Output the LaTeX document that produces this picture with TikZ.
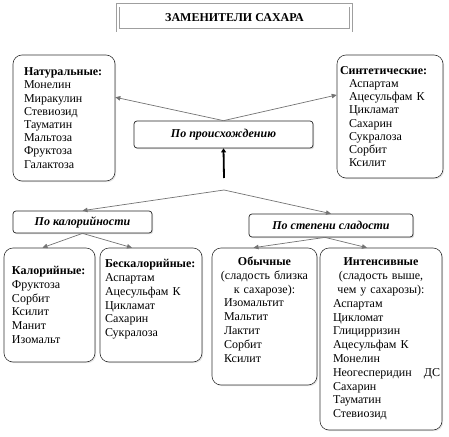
\documentclass[tikz,border=0pt]{standalone}
\usepackage{fontspec}
\setmainfont{Liberation Serif}
\newfontfamily\rusfont{Liberation Serif}
\usetikzlibrary{arrows.meta,shadows}

\begin{document}
\begin{tikzpicture}[
    x=1pt, y=-1pt,
    font=\rusfont\fontsize{12}{13.8}\selectfont,
    listbox/.style={draw=black!80, fill=white, line width=0.6pt, rounded corners=9pt, align=left,
                    inner ysep=0pt, drop shadow={opacity=0.2, shadow xshift=1.2pt, shadow yshift=-1.2pt}},
    tagbox/.style={draw=black!85, fill=white, line width=0.7pt, rounded corners=3pt, inner sep=0pt,
                   font=\rusfont\fontsize{12}{13.8}\selectfont\bfseries\itshape,
                   drop shadow={opacity=0.3, shadow xshift=1.2pt, shadow yshift=-1.2pt}},
    link/.style={draw=black!55, line width=0.7pt, -{Triangle[length=5pt,width=4.5pt]}},
]
    \useasboundingbox (0,0) rectangle (449,436);

    % Title frame
    \node[draw=gray!75, line width=0.7pt, double=white, double distance=2.6pt,
          minimum width=233pt, minimum height=25pt, inner sep=0pt,
          font=\rusfont\fontsize{12}{13}\selectfont\bfseries] (title) at (234.5,18) {ЗАМЕНИТЕЛИ САХАРА};

    % Level 1: by origin
    \node[tagbox, minimum width=179pt, minimum height=27pt] (orig) at (223.5,134.5) {По происхождению};

    \node[listbox, minimum width=102pt, minimum height=126pt, text width=80pt, inner xsep=11pt,
          font=\rusfont\fontsize{12}{13.2}\selectfont] (nat) at (64,118)
      {\textbf{Натуральные:}\\Монелин\\Миракулин\\Стевиозид\\Тауматин\\Мальтоза\\Фруктоза\\Галактоза};

    \node[listbox, minimum width=106pt, minimum height=123pt, text width=100pt, inner xsep=3pt,
          font=\rusfont\fontsize{12}{13.2}\selectfont] (syn) at (390,116.5)
      {\textbf{Синтетические:}\\\hspace*{9pt}Аспартам\\\hspace*{9pt}Ацесульфам К\\\hspace*{9pt}Цикламат\\
       \hspace*{9pt}Сахарин\\\hspace*{9pt}Сукралоза\\\hspace*{9pt}Сорбит\\\hspace*{9pt}Ксилит};

    % Level 2: by calories / by sweetness
    \node[tagbox, minimum width=139pt, minimum height=22pt] (kal) at (82.5,222) {По калорийности};
    \node[tagbox, minimum width=164pt, minimum height=23pt] (sweet) at (331,225.5) {По степени сладости};

    % Level 3 boxes
    \node[listbox, minimum width=91pt, minimum height=114pt, text width=75pt, inner xsep=8pt] (kalor) at (49.5,305)
      {\textbf{Калорийные:}\\Фруктоза\\Сорбит\\Ксилит\\Манит\\Изомальт};
    \node[listbox, minimum width=102pt, minimum height=114pt, text width=92pt, inner xsep=5pt] (bkal) at (151,305)
      {\textbf{Бескалорийные:}\\Аспартам\\Ацесульфам К\\Цикламат\\Сахарин\\Сукралоза\\\mbox{}};

    \node[listbox, minimum width=105pt, minimum height=137pt, text width=97pt, inner xsep=4pt] (usual) at (264.5,316.5)
      {\makebox[\linewidth][c]{\textbf{Обычные}}\\\makebox[\linewidth][c]{(сладость близка}\\
       \makebox[\linewidth][c]{к сахарозе):}\\\hspace*{8pt}Изомальтит\\\hspace*{8pt}Мальтит\\
       \hspace*{8pt}Лактит\\\hspace*{8pt}Сорбит\\\hspace*{8pt}Ксилит\\\mbox{}};

    \node[listbox, minimum width=122pt, minimum height=182pt, text width=96pt, inner xsep=13pt] (intens) at (381,339)
      {\makebox[\linewidth][c]{\textbf{Интенсивные}}\\\makebox[\linewidth][c]{(сладость выше,}\\
       \makebox[\linewidth][c]{чем у сахарозы):}\\Аспартам\\Цикломат\\Глицирризин\\Ацесульфам К\\
       Монелин\\\mbox{Неогесперидин~~~ДС}\\Сахарин\\Тауматин\\Стевиозид};

    % Junction points
    \coordinate (stem) at (224,178);
    \coordinate (fork) at (224,190);

    % Connectors
    \draw[link] (orig.north) -- (nat.22);
    \draw[link] (orig.north) -- (syn.158);
    \draw[black, line width=1.8pt, -{Triangle[length=4pt,width=5pt]}] (stem) -- (orig.south);
    \draw[link] (fork) -- (kal.north);
    \draw[link] (fork) -- (sweet.north);
    \draw[link] (kal.south) -- ([xshift=-7pt]kalor.north);
    \draw[link] (kal.south) -- ([xshift=-19pt]bkal.north);
    \draw[link] ([xshift=-6pt]sweet.south) -- ([xshift=-11pt]usual.north);
    \draw[link] ([xshift=-6pt]sweet.south) -- ([xshift=-14pt]intens.north);
\end{tikzpicture}
\end{document}
